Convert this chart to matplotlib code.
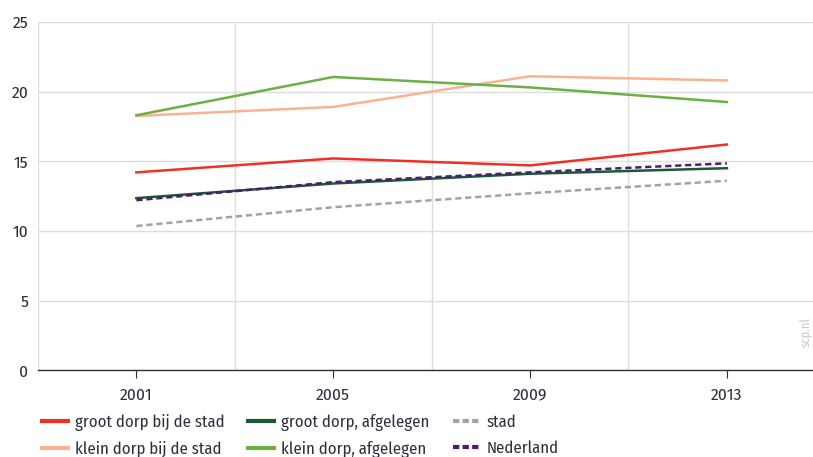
import matplotlib.pyplot as plt

plt.rcParams['font.family'] = ['Fira Sans Condensed', 'DejaVu Sans']

years = [2001, 2005, 2009, 2013]
groot_bij_stad = [14.2, 15.2, 14.7, 16.2]
klein_bij_stad = [18.25, 18.9, 21.1, 20.8]
groot_afgelegen = [12.35, 13.4, 14.1, 14.5]
klein_afgelegen = [18.3, 21.05, 20.3, 19.25]
stad = [10.35, 11.7, 12.7, 13.6]
nederland = [12.2, 13.5, 14.2, 14.85]

text_col = "#2e2f3c"

fig = plt.figure(figsize=(8.13, 4.57), dpi=100)
ax = fig.add_axes([0.0467, 0.19, 0.9533, 0.762])

# plotted in legend order (column-wise fill)
ax.plot(years, groot_bij_stad, color="#ee3124", lw=1.8, label="groot dorp bij de stad")
ax.plot(years, klein_bij_stad, color="#f9b294", lw=1.8, label="klein dorp bij de stad")
ax.plot(years, groot_afgelegen, color="#1b5a36", lw=1.8, label="groot dorp, afgelegen")
ax.plot(years, klein_afgelegen, color="#6cb043", lw=1.8, label="klein dorp, afgelegen")
ax.plot(years, stad, color="#a3a3a3", lw=1.8, ls=(0, (2.5, 1.5)), label="stad")
ax.plot(years, nederland, color="#4a1d6f", lw=1.8, ls=(0, (2.5, 1.5)), label="Nederland")

ax.set_xlim(1999, 2014.75)
ax.set_ylim(0, 25)
ax.set_xticks(years)
ax.set_xticks([1999, 2003, 2007, 2011], minor=True)
ax.set_yticks([0, 5, 10, 15, 20, 25])

ax.grid(axis="y", color="#dddddd", lw=1)
ax.grid(axis="x", which="minor", color="#dddddd", lw=1)
ax.set_axisbelow(True)

for s in ["top", "right", "left"]:
    ax.spines[s].set_visible(False)
ax.spines["bottom"].set_color("#333333")
ax.spines["bottom"].set_linewidth(1)

ax.tick_params(axis="x", which="major", direction="out", length=6, color="#333333",
               labelsize=12.5, labelcolor=text_col, pad=6)
ax.tick_params(axis="x", which="minor", length=0)
ax.tick_params(axis="y", length=0, labelsize=12.5, labelcolor=text_col, pad=7)

fig.text(0.992, 0.24, "scp.nl", rotation=90, color="#c8c8c8", fontsize=9,
         ha="center", va="bottom")

leg = fig.legend(loc="upper left", bbox_to_anchor=(0.033, 0.128), ncol=3, frameon=False,
                 fontsize=12, handlelength=1.55, columnspacing=1.4, handletextpad=0.45,
                 labelspacing=0.6)
for t in leg.get_texts():
    t.set_color(text_col)
for h in leg.get_lines():
    h.set_linewidth(3)
    if h.get_linestyle() != "-":
        h.set_dashes((1.5, 0.8))

fig.savefig("out.png", dpi=100)
